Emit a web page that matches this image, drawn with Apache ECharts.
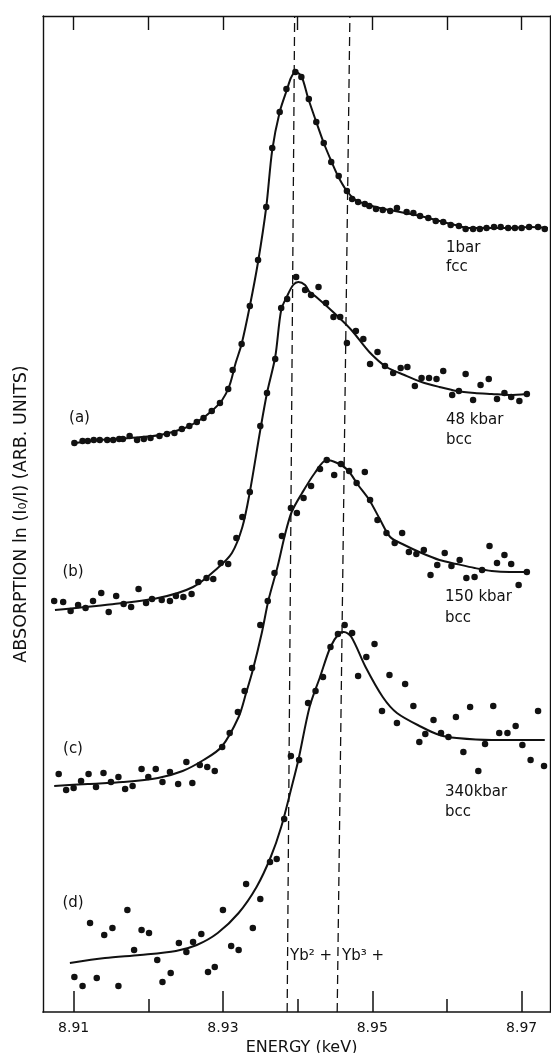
<!DOCTYPE html>
<html>
<head>
<meta charset="utf-8">
<script src="https://cdn.jsdelivr.net/npm/echarts@6/dist/echarts.min.js"></script>
<style>
html,body{margin:0;padding:0;background:#fff;}
#c{width:551px;height:1053px;}
</style>
</head>
<body>
<div id="c"></div>
<script>
// Energy axis (keV)
const energyMin = 8.9059;
const energyMax = 8.9738;
const labelTicks = [8.91, 8.93, 8.95, 8.97];
const minorTicks = [8.92, 8.94, 8.96];
const allTicks = [8.91, 8.92, 8.93, 8.94, 8.95, 8.96, 8.97];
// Absorption axis (arbitrary units)
const absMin = 0;
const absMax = 99.6;

// (a) 1 bar fcc — measured points [energy, absorption]
const pointsA = [
 [8.9101,56.9],[8.9112,57.1],[8.9119,57.1],[8.9127,57.2],[8.9135,57.2],[8.9145,57.2],[8.9153,57.2],[8.9161,57.3],
 [8.9166,57.3],[8.9175,57.6],[8.9185,57.2],[8.9194,57.3],[8.9203,57.4],[8.9215,57.6],[8.9225,57.8],[8.9235,57.9],
 [8.9245,58.3],[8.9255,58.6],[8.9265,59.0],[8.9274,59.4],[8.9285,60.1],[8.9296,60.9],[8.9307,62.3],[8.9313,64.2],
 [8.9325,66.8],[8.9336,70.6],[8.9347,75.2],[8.9358,80.5],[8.9366,86.4],[8.9376,90.0],[8.9385,92.3],[8.9397,94.0],
 [8.9405,93.5],[8.9415,91.3],[8.9425,89.0],[8.9435,86.9],[8.9445,85.0],[8.9455,83.6],[8.9466,82.1],[8.9473,81.3],
 [8.9481,81.0],[8.9490,80.8],[8.9496,80.6],[8.9505,80.3],[8.9514,80.2],[8.9524,80.1],[8.9533,80.4],[8.9546,80.0],
 [8.9555,79.9],[8.9564,79.6],[8.9575,79.4],[8.9585,79.1],[8.9595,79.0],[8.9605,78.7],[8.9616,78.6],[8.9625,78.3],
 [8.9635,78.3],[8.9644,78.3],[8.9653,78.4],[8.9663,78.5],[8.9672,78.5],[8.9682,78.4],[8.9691,78.4],[8.9700,78.4],
 [8.9710,78.5],[8.9722,78.5],[8.9731,78.3]
];
const fitA = [
 [8.9102,56.9],[8.9135,57.2],[8.9175,57.4],[8.9216,57.7],[8.9249,58.4],[8.9269,59.2],[8.9285,60.1],[8.9299,61.2],
 [8.9309,62.7],[8.9317,64.9],[8.9325,66.8],[8.9336,70.6],[8.9347,75.0],[8.9358,80.5],[8.9366,86.2],[8.9376,90.0],
 [8.9386,92.3],[8.9391,93.4],[8.9397,94.0],[8.9405,93.6],[8.9414,91.4],[8.9425,89.0],[8.9435,86.9],[8.9445,85.1],
 [8.9454,83.6],[8.9465,82.2],[8.9476,81.3],[8.9490,80.8],[8.9510,80.4],[8.9537,80.0],[8.9564,79.6],[8.9590,79.1],
 [8.9611,78.7],[8.9631,78.4],[8.9657,78.4],[8.9684,78.4],[8.9711,78.5],[8.9735,78.4]
];

// (b) 48 kbar bcc
const pointsB = [
 [8.9074,41.1],[8.9086,41.0],[8.9096,40.1],[8.9106,40.7],[8.9116,40.4],[8.9126,41.1],[8.9137,41.9],[8.9147,40.0],
 [8.9157,41.6],[8.9167,40.8],[8.9177,40.5],[8.9187,42.3],[8.9197,40.9],[8.9205,41.3],[8.9218,41.2],[8.9229,41.1],
 [8.9237,41.6],[8.9247,41.5],[8.9258,41.8],[8.9267,43.0],[8.9278,43.4],[8.9287,43.3],[8.9297,44.9],[8.9307,44.8],
 [8.9318,47.4],[8.9326,49.5],[8.9336,52.0],[8.9350,58.6],[8.9359,61.9],[8.9370,65.3],[8.9378,70.4],[8.9386,71.3],
 [8.9398,73.5],[8.9410,72.2],[8.9418,71.7],[8.9428,72.5],[8.9438,70.9],[8.9448,69.5],[8.9457,69.5],[8.9466,66.9],
 [8.9478,68.1],[8.9488,67.3],[8.9497,64.8],[8.9507,66.0],[8.9517,64.6],[8.9528,63.9],[8.9538,64.4],[8.9547,64.5],
 [8.9557,62.6],[8.9566,63.4],[8.9576,63.4],[8.9586,63.3],[8.9595,64.1],[8.9607,61.7],[8.9616,62.1],[8.9625,63.8],
 [8.9635,61.2],[8.9645,62.7],[8.9656,63.3],[8.9667,61.3],[8.9677,61.9],[8.9686,61.5],[8.9697,61.1],[8.9707,61.8]
];
const fitB = [
 [8.9075,40.2],[8.9142,40.7],[8.9213,41.4],[8.9260,42.5],[8.9293,44.4],[8.9312,45.9],[8.9326,48.5],[8.9336,52.0],
 [8.9350,58.2],[8.9359,61.9],[8.9370,65.5],[8.9378,70.2],[8.9386,71.6],[8.9394,72.7],[8.9401,73.0],[8.9410,72.7],
 [8.9416,72.0],[8.9425,71.5],[8.9449,69.9],[8.9472,68.2],[8.9496,66.0],[8.9519,64.5],[8.9543,63.7],[8.9566,63.0],
 [8.9590,62.5],[8.9613,62.1],[8.9637,61.9],[8.9660,61.8],[8.9684,61.7],[8.9707,61.8]
];

// (c) 150 kbar bcc
const pointsC = [
 [8.9080,23.8],[8.9090,22.2],[8.9100,22.4],[8.9110,23.1],[8.9120,23.8],[8.9130,22.5],[8.9140,23.9],[8.9150,23.0],
 [8.9160,23.5],[8.9169,22.3],[8.9179,22.6],[8.9191,24.3],[8.9200,23.5],[8.9210,24.3],[8.9219,23.0],[8.9229,24.0],
 [8.9240,22.8],[8.9251,25.0],[8.9259,22.9],[8.9269,24.7],[8.9279,24.5],[8.9289,24.1],[8.9299,26.5],[8.9309,27.9],
 [8.9320,30.0],[8.9329,32.1],[8.9339,34.4],[8.9350,38.7],[8.9360,41.1],[8.9369,43.9],[8.9379,47.6],[8.9391,50.4],
 [8.9399,49.9],[8.9408,51.4],[8.9418,52.6],[8.9430,54.3],[8.9439,55.2],[8.9449,53.7],[8.9458,54.8],[8.9469,54.1],
 [8.9479,52.9],[8.9490,54.0],[8.9497,51.2],[8.9507,49.2],[8.9519,47.9],[8.9530,46.9],[8.9540,47.9],[8.9549,46.0],
 [8.9559,45.8],[8.9569,46.2],[8.9578,43.7],[8.9587,44.7],[8.9597,45.9],[8.9606,44.6],[8.9617,45.2],[8.9626,43.4],
 [8.9637,43.5],[8.9647,44.2],[8.9657,46.6],[8.9667,44.9],[8.9677,45.7],[8.9686,44.8],[8.9696,42.7],[8.9707,44.0]
];
const fitC = [
 [8.9074,22.6],[8.9119,22.8],[8.9166,23.0],[8.9213,23.4],[8.9246,24.1],[8.9274,25.2],[8.9298,26.5],[8.9321,29.5],
 [8.9331,31.9],[8.9340,34.2],[8.9352,37.9],[8.9361,41.2],[8.9373,44.5],[8.9383,47.7],[8.9392,50.0],[8.9406,51.9],
 [8.9423,53.9],[8.9439,55.2],[8.9453,54.9],[8.9467,54.2],[8.9481,52.7],[8.9496,51.2],[8.9510,49.3],[8.9524,47.5],
 [8.9543,46.7],[8.9566,45.9],[8.9590,45.2],[8.9613,44.8],[8.9637,44.4],[8.9660,44.1],[8.9684,44.0],[8.9707,44.0]
];

// (d) 340 kbar bcc
const pointsD = [
 [8.9101,3.5],[8.9112,2.6],[8.9122,8.9],[8.9131,3.4],[8.9141,7.7],[8.9152,8.4],[8.9160,2.6],[8.9172,10.2],
 [8.9181,6.2],[8.9191,8.2],[8.9201,7.9],[8.9212,5.2],[8.9219,3.0],[8.9230,3.9],[8.9241,6.9],[8.9251,6.0],
 [8.9260,7.0],[8.9271,7.8],[8.9280,4.0],[8.9289,4.5],[8.9300,10.2],[8.9311,6.6],[8.9321,6.2],[8.9331,12.8],
 [8.9340,8.4],[8.9350,11.3],[8.9363,15.0],[8.9372,15.3],[8.9382,19.3],[8.9391,25.6],[8.9402,25.2],[8.9414,30.9],
 [8.9424,32.1],[8.9434,33.5],[8.9444,36.5],[8.9454,37.8],[8.9463,38.7],[8.9473,37.9],[8.9481,33.6],[8.9492,35.5],
 [8.9503,36.8],[8.9513,30.1],[8.9523,33.7],[8.9533,28.9],[8.9544,32.8],[8.9555,30.6],[8.9563,27.0],[8.9571,27.8],
 [8.9582,29.2],[8.9592,27.9],[8.9602,27.5],[8.9612,29.5],[8.9622,26.0],[8.9631,30.5],[8.9642,24.1],[8.9651,26.8],
 [8.9662,30.6],[8.9670,27.9],[8.9681,27.9],[8.9692,28.6],[8.9701,26.7],[8.9712,25.2],[8.9722,30.1],[8.9730,24.6]
];
const fitD = [
 [8.9095,4.9],[8.9142,5.4],[8.9189,5.7],[8.9237,6.1],[8.9265,6.7],[8.9293,7.9],[8.9321,9.9],[8.9345,12.5],
 [8.9364,15.5],[8.9378,18.5],[8.9392,22.5],[8.9401,25.2],[8.9416,30.5],[8.9430,33.5],[8.9444,36.5],[8.9456,37.9],
 [8.9462,38.0],[8.9472,37.5],[8.9491,34.5],[8.9514,31.5],[8.9533,29.9],[8.9566,28.5],[8.9590,27.7],[8.9613,27.4],
 [8.9660,27.2],[8.9731,27.2]
];

// Reference edges (Yb2+ and Yb3+), drawn from bottom to top of the frame
const yb2Edge = [[8.9386, 0], [8.9396, 99.6]];
const yb3Edge = [[8.9453, 0], [8.9470, 99.6]];

const ink = '#111111';
const font = 'DejaVu Sans';

function scatter(data){
  return {type:'scatter', data, symbol:'circle', symbolSize:6.5, itemStyle:{color:ink, opacity:1}, silent:true, z:3};
}
function fit(data){
  return {type:'line', data, showSymbol:false, smooth:0.3, lineStyle:{color:ink, width:2}, silent:true, z:2};
}
function edge(data){
  return {type:'line', data, showSymbol:false, lineStyle:{color:ink, width:1.3, type:[9,5]}, silent:true, z:1};
}
function txtC(x, y, text, size){
  return {type:'text', x, y, style:{text, font: `${size||15}px "${font}"`, fill: ink, align:'center', verticalAlign:'middle'}};
}
function txtL(x, y, text, size){
  return {type:'text', x, y, style:{text, font: `${size||15}px "${font}"`, fill: ink, align:'left', verticalAlign:'middle'}};
}

const chart = echarts.init(document.getElementById('c'), null, {renderer:'canvas'});
chart.setOption({
  animation:false,
  backgroundColor:'#fff',
  grid:{left:43, right:1, top:16, bottom:41, containLabel:false, outerBoundsMode:'none'},
  xAxis:[
    {type:'value', min:energyMin, max:energyMax, position:'bottom',
     axisLine:{show:true, onZero:false, lineStyle:{color:ink, width:1.7}},
     axisTick:{show:true, inside:true, length:21, customValues:labelTicks, lineStyle:{color:ink, width:1.5}},
     axisLabel:{show:true, customValues:labelTicks, formatter:v=>v.toFixed(2), fontSize:14, fontFamily:font, color:ink, margin:9},
     splitLine:{show:false},
     name:'ENERGY (keV)', nameLocation:'middle', nameGap:23,
     nameTextStyle:{fontSize:16, fontFamily:font, color:ink, padding:[0,0,0,10]}},
    {type:'value', min:energyMin, max:energyMax, position:'bottom',
     axisLine:{show:false},
     axisTick:{show:true, inside:true, length:13, customValues:minorTicks, lineStyle:{color:ink, width:1.5}},
     axisLabel:{show:false}, splitLine:{show:false}},
    {type:'value', min:energyMin, max:energyMax, position:'top',
     axisLine:{show:true, onZero:false, lineStyle:{color:ink, width:1.4}},
     axisTick:{show:true, inside:true, length:14, customValues:allTicks, lineStyle:{color:ink, width:1.4}},
     axisLabel:{show:false}, splitLine:{show:false}}
  ],
  yAxis:[
    {type:'value', min:absMin, max:absMax, position:'left',
     axisLine:{show:true, onZero:false, lineStyle:{color:ink, width:1.4}},
     axisTick:{show:false}, axisLabel:{show:false}, splitLine:{show:false},
     name:'ABSORPTION ln (I\u2080/I) (ARB. UNITS)', nameLocation:'middle', nameRotate:90, nameGap:13,
     nameTextStyle:{fontSize:17.5, fontFamily:font, color:ink}},
    {type:'value', min:absMin, max:absMax, position:'right',
     axisLine:{show:true, onZero:false, lineStyle:{color:ink, width:1.4}},
     axisTick:{show:false}, axisLabel:{show:false}, splitLine:{show:false}}
  ],
  series:[
    edge(yb2Edge), edge(yb3Edge),
    fit(fitA), scatter(pointsA),
    fit(fitB), scatter(pointsB),
    fit(fitC), scatter(pointsC),
    fit(fitD), scatter(pointsD)
  ],
  graphic:[
    txtC(79.5, 418, '(a)', 15),
    txtC(73, 572, '(b)', 15),
    txtC(73, 749, '(c)', 15),
    txtC(73, 903, '(d)', 15),
    txtL(446, 248, '1bar', 15), txtL(446, 267, 'fcc', 15),
    txtL(446, 420, '48 kbar', 15), txtL(446, 440, 'bcc', 15),
    txtL(445, 597, '150 kbar', 15), txtL(445, 618, 'bcc', 15),
    txtL(445, 792, '340kbar', 15), txtL(445, 812, 'bcc', 15),
    txtL(290, 956, 'Yb\u00b2 +', 15),
    txtL(342, 956, 'Yb\u00b3 +', 15)
  ]
});
</script>
</body>
</html>
